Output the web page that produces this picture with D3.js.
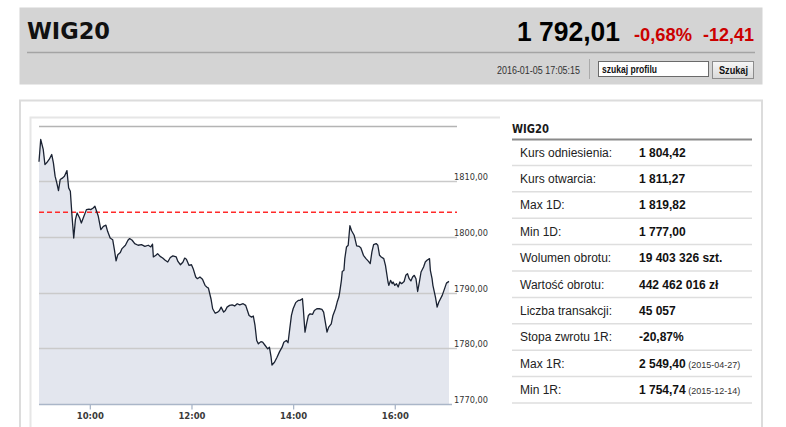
<!DOCTYPE html>
<html><head><meta charset="utf-8">
<script src="https://cdn.jsdelivr.net/npm/d3@7/dist/d3.min.js"></script>
<style>html,body{margin:0;padding:0;background:#fff;overflow:hidden}svg{display:block}</style>
</head><body><svg id="c" width="786" height="427"></svg>
<script>
// ---- chart data ----
const times = [
"9:00","9:02","9:05","9:07","9:09","9:12","9:15","9:17","9:19","9:21",
"9:23","9:25","9:28","9:30","9:33","9:35","9:37","9:39","9:41","9:43",
"9:45","9:48","9:50","9:53","9:56","9:59","10:01","10:04","10:06","10:08",
"10:10","10:13","10:16","10:19","10:21","10:24","10:27","10:29","10:31","10:33",
"10:36","10:38","10:42","10:45","10:47","10:50","10:53","10:57","11:01","11:05",
"11:09","11:12","11:14","11:15","11:18","11:20","11:23","11:26","11:29","11:32",
"11:35","11:38","11:42","11:44","11:47","11:50","11:52","11:54","11:57","12:00",
"12:02","12:05","12:07","12:10","12:13","12:16","12:18","12:20","12:23","12:25",
"12:28","12:31","12:33","12:35","12:38","12:40","12:42","12:45","12:48","12:51",
"12:54","12:57","13:01","13:04","13:06","13:08","13:11","13:13","13:15","13:17",
"13:19","13:22","13:24","13:27","13:30","13:32","13:34","13:35","13:38","13:41",
"13:44","13:47","13:49","13:52","13:54","13:56","13:58","14:00","14:03","14:06",
"14:08","14:11","14:12","14:14","14:16","14:18","14:20","14:23","14:25","14:28",
"14:31","14:34","14:36","14:38","14:40","14:42","14:45","14:47","14:50","14:52",
"14:54","14:55","14:57","14:58","15:00","15:01","15:03","15:05","15:07","15:09",
"15:12","15:13","15:15","15:18","15:20","15:23","15:26","15:29","15:31","15:33",
"15:35","15:38","15:40","15:42","15:44","15:47","15:49","15:52","15:53","15:55",
"15:57","15:58","16:00","16:02","16:04","16:06","16:08","16:11","16:13","16:15",
"16:17","16:19","16:21","16:23","16:25","16:27","16:29","16:31","16:34","16:36",
"16:38","16:41","16:42","16:44","16:45","16:48","16:50","16:52","16:56","16:59",
"17:01","17:04"];
const values = [
1813.5,1817.5,1815.7,1813.0,1813.3,1813.9,1814.8,1813.3,1810.9,1809.7,
1808.3,1810.3,1810.6,1810.9,1811.9,1808.8,1808.2,1803.7,1799.8,1803.1,
1804.3,1803.4,1802.5,1803.7,1804.9,1805.0,1804.9,1805.2,1805.5,1804.6,
1803.7,1801.3,1801.9,1802.1,1801.0,1799.8,1799.5,1797.7,1795.7,1796.8,
1797.2,1797.9,1798.5,1799.4,1799.7,1799.4,1798.8,1798.5,1798.6,1798.3,
1798.5,1798.2,1798.7,1796.4,1796.7,1797.0,1796.5,1796.2,1795.8,1795.5,
1796.3,1796.6,1796.4,1795.6,1795.0,1795.5,1796.2,1796.0,1794.9,1795.0,
1794.3,1792.8,1792.5,1792.8,1792.4,1791.3,1791.0,1790.8,1788.9,1787.1,
1786.3,1786.5,1786.8,1787.4,1786.5,1786.8,1787.4,1787.7,1787.8,1787.6,
1788.0,1787.8,1788.0,1787.7,1786.8,1785.9,1785.6,1785.8,1784.1,1781.4,
1780.8,1781.2,1781.1,1780.5,1779.9,1780.2,1778.4,1777.0,1777.5,1778.4,
1779.4,1780.2,1781.1,1781.4,1781.0,1783.5,1785.9,1787.1,1788.2,1788.6,
1788.6,1788.9,1787.1,1782.9,1784.5,1785.9,1786.2,1786.1,1786.8,1787.1,
1787.1,1787.0,1786.5,1784.7,1782.9,1783.8,1784.4,1785.9,1787.1,1788.3,
1789.2,1790.1,1792.2,1793.8,1794.0,1796.1,1798.2,1798.5,1802.0,1801.1,
1800.3,1799.7,1798.4,1798.3,1798.0,1796.7,1796.1,1795.6,1795.2,1797.3,
1798.6,1798.8,1798.5,1796.7,1796.4,1796.1,1794.9,1791.9,1791.3,1792.2,
1791.6,1791.9,1791.3,1791.6,1791.0,1791.9,1791.6,1792.0,1793.1,1793.4,
1792.5,1792.1,1792.8,1793.1,1792.5,1790.2,1791.9,1793.7,1794.6,1795.5,
1795.8,1796.1,1794.0,1792.5,1791.3,1789.2,1787.4,1788.3,1789.5,1790.8,
1791.7,1792.01];
const referencePrice = 1804.42;
const timeDomain = ["9:00","17:04"];
const xTickTimes = ["10:00","12:00","14:00","16:00"];
const yTickValues = [1770,1780,1790,1800,1810,1820];
const yLabelValues = [1770,1780,1790,1800,1810];

// ---- header / table texts ----
const headerTitle = "WIG20";
const headerPrice = "1 792,01";
const headerChangePct = "-0,68%";
const headerChange = "-12,41";
const headerDate = "2016-01-05 17:05:15";
const searchPlaceholder = "szukaj profilu";
const searchButton = "Szukaj";
const tableTitle = "WIG20";
const tableLabels = ["Kurs odniesienia:","Kurs otwarcia:","Max 1D:","Min 1D:","Wolumen obrotu:","Wartość obrotu:","Liczba transakcji:","Stopa zwrotu 1R:","Max 1R:","Min 1R:"];
const tableValues = ["1 804,42","1 811,27","1 819,82","1 777,00","19 403 326 szt.","442 462 016 zł","45 057","-20,87%","2 549,40","1 754,74"];
const tableNotes = ["","","","","","","","","(2015-04-27)","(2015-12-14)"];

const svg = d3.select("#c");
const SANS = "'Liberation Sans', Arial, sans-serif";
const VERD = "'DejaVu Sans', Verdana, sans-serif";

// gradient for button
const defs = svg.append("defs");
const g1 = defs.append("linearGradient").attr("id","btn").attr("x1",0).attr("y1",0).attr("x2",0).attr("y2",1);
g1.append("stop").attr("offset","0").attr("stop-color","#f7f7f7");
g1.append("stop").attr("offset","1").attr("stop-color","#d9d9d9");

// ---- header ----
const hd = svg.append("g");
hd.append("rect").attr("x",19.5).attr("y",7.5).attr("width",743).attr("height",77).attr("fill","#d4d4d4");
hd.append("line").attr("x1",27).attr("x2",755).attr("y1",52.5).attr("y2",52.5).attr("stroke","#a4a4a4").attr("stroke-width",1.6);
hd.append("text").attr("x",27).attr("y",39).attr("font-family",VERD).attr("font-weight","bold").attr("font-size",23)
  .attr("textLength",83).attr("lengthAdjust","spacingAndGlyphs").attr("fill","#111").text(headerTitle);
hd.append("text").attr("x",517).attr("y",40.5).attr("font-family",SANS).attr("font-weight","bold").attr("font-size",27)
  .attr("textLength",103).attr("lengthAdjust","spacingAndGlyphs").attr("fill","#000").text(headerPrice);
hd.append("text").attr("x",634).attr("y",40.5).attr("font-family",SANS).attr("font-weight","bold").attr("font-size",18.5)
  .attr("textLength",58).attr("lengthAdjust","spacingAndGlyphs").attr("fill","#cc0000").text(headerChangePct);
hd.append("text").attr("x",703).attr("y",40.5).attr("font-family",SANS).attr("font-weight","bold").attr("font-size",18.5)
  .attr("textLength",51).attr("lengthAdjust","spacingAndGlyphs").attr("fill","#cc0000").text(headerChange);
hd.append("text").attr("x",497).attr("y",74).attr("font-family",SANS).attr("font-size",10)
  .attr("textLength",83).attr("lengthAdjust","spacingAndGlyphs").attr("fill","#333").text(headerDate);
hd.append("line").attr("x1",589.5).attr("x2",589.5).attr("y1",59).attr("y2",79).attr("stroke","#aaa");
hd.append("rect").attr("x",598.5).attr("y",61.5).attr("width",110).attr("height",15).attr("fill","#fff").attr("stroke","#6a6a6a");
hd.append("text").attr("x",602).attr("y",72.5).attr("font-family",SANS).attr("font-size",10).attr("font-weight","bold")
  .attr("textLength",55).attr("lengthAdjust","spacingAndGlyphs").attr("fill","#111").text(searchPlaceholder);
hd.append("rect").attr("x",712.5).attr("y",61.5).attr("width",41).attr("height",17).attr("fill","url(#btn)").attr("stroke","#8c8c8c");
hd.append("text").attr("x",719).attr("y",74).attr("font-family",SANS).attr("font-size",10).attr("font-weight","bold")
  .attr("textLength",29).attr("lengthAdjust","spacingAndGlyphs").attr("fill","#111").text(searchButton);

// ---- panel frames ----
svg.append("path").attr("d","M20,428V100.5H762V428").attr("fill","none").attr("stroke","#dcdcdc").attr("stroke-width",2);
svg.append("path").attr("d","M30.5,428V117.5H500").attr("fill","none").attr("stroke","#e6e6e6").attr("stroke-width",2);

// ---- chart ----
const parseT = d3.timeParse("%H:%M");
const n = Math.min(times.length, values.length);
const data = d3.range(n).map(i => ({t: parseT(times[i]), v: values[i]}));
const x = d3.scaleTime().domain(timeDomain.map(parseT)).range([39, 449]);
const y = d3.scaleLinear().domain([1770, 1820]).range([404, 125.5]);
const cg = svg.append("g");

cg.append("path").datum(data).attr("fill","#e3e6ee")
  .attr("d", d3.area().x(d => x(d.t)).y0(y(1770)).y1(d => y(d.v)));

cg.selectAll("line.grid").data(yTickValues.filter(v => v !== 1770)).enter().append("line")
  .attr("x1",39).attr("x2",457).attr("y1",d => Math.round(y(d))+0.5).attr("y2",d => Math.round(y(d))+0.5)
  .attr("stroke",d => d === 1820 ? "#b4b4b4" : "#cacaca").attr("stroke-width",1.3);

cg.append("line").attr("x1",39).attr("x2",457).attr("y1",y(referencePrice)).attr("y2",y(referencePrice))
  .attr("stroke","#ff2a2a").attr("stroke-width",1.6).attr("stroke-dasharray","5,3");

cg.append("path").datum(data).attr("fill","none").attr("stroke","#1b2333").attr("stroke-width",1.3)
  .attr("stroke-linejoin","round").attr("d", d3.line().x(d => x(d.t)).y(d => y(d.v)));

// x axis
const xAxis = d3.axisBottom(x).tickValues(xTickTimes.map(parseT)).tickFormat(d3.timeFormat("%H:%M")).tickSize(5).tickSizeOuter(0);
const xa = cg.append("g").attr("transform",`translate(0,${Math.round(y(1770))+0.5})`).call(xAxis);
xa.select(".domain").attr("stroke","#aab6c8").attr("stroke-width",1.5).attr("d",`M39,0H452`);
xa.selectAll(".tick line").attr("stroke","#aab6c8").attr("stroke-width",1.3);
xa.selectAll(".tick text").attr("font-family",VERD).attr("font-size",8.5).attr("font-weight","bold").attr("fill","#3a3a3a").attr("dy","0.95em").attr("y",6);

// y labels
cg.selectAll("text.yl").data(yLabelValues).enter().append("text")
  .attr("x",454).attr("y",d => y(d) - 1).attr("font-family",VERD).attr("font-size",8.6).attr("fill","#333")
  .attr("textLength",34).attr("lengthAdjust","spacingAndGlyphs")
  .text(d => d3.format(".2f")(d).replace(".", ","));

// ---- table ----
const tb = svg.append("g");
const rowH = 26.4, top0 = 139;
tb.append("text").attr("x",512).attr("y",132.5).attr("font-family",VERD).attr("font-weight","bold").attr("font-size",12)
  .attr("textLength",37).attr("lengthAdjust","spacingAndGlyphs").attr("fill","#1a1a1a").text(tableTitle);
tb.append("line").attr("x1",512).attr("x2",752).attr("y1",top0+0.5).attr("y2",top0+0.5).attr("stroke","#8a8a8a").attr("stroke-width",2);
tableLabels.forEach((lab, i) => {
  const yt = top0 + i*rowH;
  const by = yt + rowH/2 + 4.3;
  tb.append("text").attr("x",520).attr("y",by).attr("font-family",SANS).attr("font-size",12).attr("fill","#222").text(lab);
  const vt = tb.append("text").attr("x",639).attr("y",by).attr("font-family",SANS).attr("font-size",12).attr("fill","#111");
  vt.append("tspan").attr("font-weight","bold").text(tableValues[i]);
  if (tableNotes[i]) vt.append("tspan").attr("font-size",9).attr("fill","#333").text(" " + tableNotes[i]);
  tb.append("line").attr("x1",512).attr("x2",752).attr("y1",yt+rowH).attr("y2",yt+rowH).attr("stroke","#dedede").attr("stroke-width",1.5);
});
</script></body></html>
